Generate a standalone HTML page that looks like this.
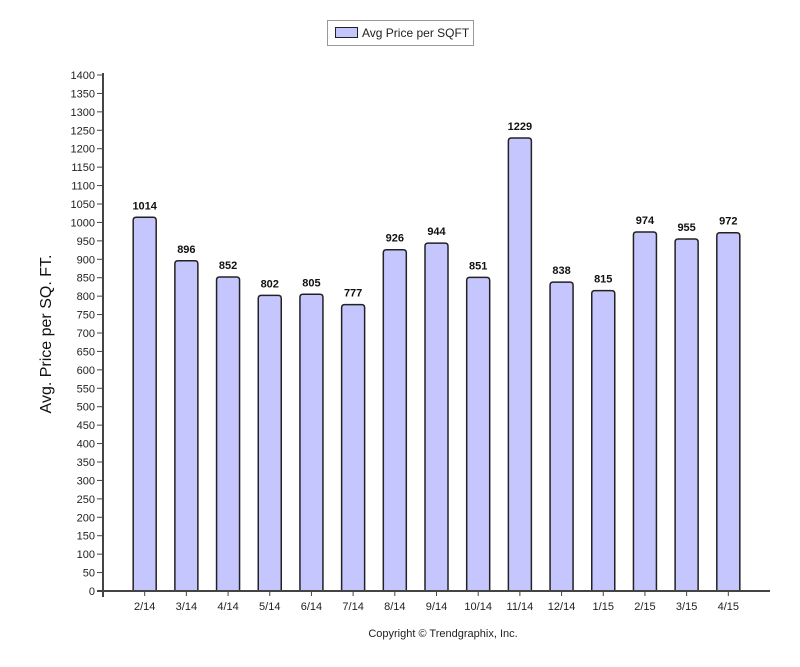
<!DOCTYPE html>
<html><head><meta charset="utf-8"><style>
html,body{margin:0;padding:0;background:#fff;}
svg{display:block;font-family:"Liberation Sans",Arial,sans-serif;}
</style></head><body>
<svg id="chart" width="800" height="667" viewBox="0 0 800 667" xmlns="http://www.w3.org/2000/svg">
<g>
<rect x="327.5" y="20.5" width="146" height="25" fill="#fff" stroke="#999"/>
<rect x="335.5" y="27.5" width="22" height="10" fill="#c6c6ff" stroke="#222"/>
<text x="362" y="37" font-size="12" fill="#222">Avg Price per SQFT</text>
</g>
<text transform="translate(51,334) rotate(-90)" text-anchor="middle" font-size="16" fill="#111">Avg. Price per SQ. FT.</text>
<text x="443" y="637" text-anchor="middle" font-size="11" fill="#222">Copyright © Trendgraphix, Inc.</text>
<g id="plot"></g>
</svg>
<script>
const categories = ["2/14","3/14","4/14","5/14","6/14","7/14","8/14","9/14","10/14","11/14","12/14","1/15","2/15","3/15","4/15"];
const values = [1014,896,852,802,805,777,926,944,851,1229,838,815,974,955,972];
const yTicks = [0,50,100,150,200,250,300,350,400,450,500,550,600,650,700,750,800,850,900,950,1000,1050,1100,1150,1200,1250,1300,1350,1400];

const NS = "http://www.w3.org/2000/svg";
const x0 = 103, xEnd = 770, y0 = 591, yTop = 75, yMax = 1400;
const band = (xEnd - x0) / (categories.length + 1);
function yScale(v){ return y0 - (v / yMax) * (y0 - yTop); }
function xScale(i){ return x0 + (i + 1) * band; }
const plot = document.getElementById('plot');
function mk(tag, attrs){ const e = document.createElementNS(NS, tag); for (const k in attrs) e.setAttribute(k, attrs[k]); plot.appendChild(e); return e; }

yTicks.forEach(t => {
  const y = yScale(t);
  const tk = mk('line', {x1: x0 - 6, x2: x0, y1: y, y2: y, stroke: '#444', 'stroke-width': 1});
  
  
  const lb = mk('text', {x: x0 - 8, y: y + 4, 'text-anchor': 'end', 'font-size': 11, fill: '#222'});
  
  
  lb.textContent = t;
});

const bw = 23;
categories.forEach((c, i) => {
  const cx = xScale(i), v = values[i], y = yScale(v);
  const bar = mk('path', {d: `M${cx-bw/2},${y0} L${cx-bw/2},${y+3} Q${cx-bw/2},${y} ${cx-bw/2+3},${y} L${cx+bw/2-3},${y} Q${cx+bw/2},${y} ${cx+bw/2},${y+3} L${cx+bw/2},${y0}`, fill: '#c6c6ff', stroke: '#222', 'stroke-width': 1.5});
  
  
  const vl = mk('text', {x: cx, y: y - 8, 'text-anchor': 'middle', 'font-size': 11, 'font-weight': 'bold', fill: '#111'});
  
  
  vl.textContent = v;
  const tk = mk('line', {x1: cx, x2: cx, y1: y0, y2: y0 + 5, stroke: '#444'});
  
  
  const xl = mk('text', {x: cx, y: y0 + 19, 'text-anchor': 'middle', 'font-size': 11, fill: '#222'});
  
  
  xl.textContent = c;
});

const ya = mk('line', {x1: x0, x2: x0, y1: yTop - 2, y2: y0 + 6, stroke: '#444', 'stroke-width': 2});


const xa = mk('line', {x1: x0 - 6, x2: xEnd, y1: y0, y2: y0, stroke: '#444', 'stroke-width': 2});


</script>
</body></html>
